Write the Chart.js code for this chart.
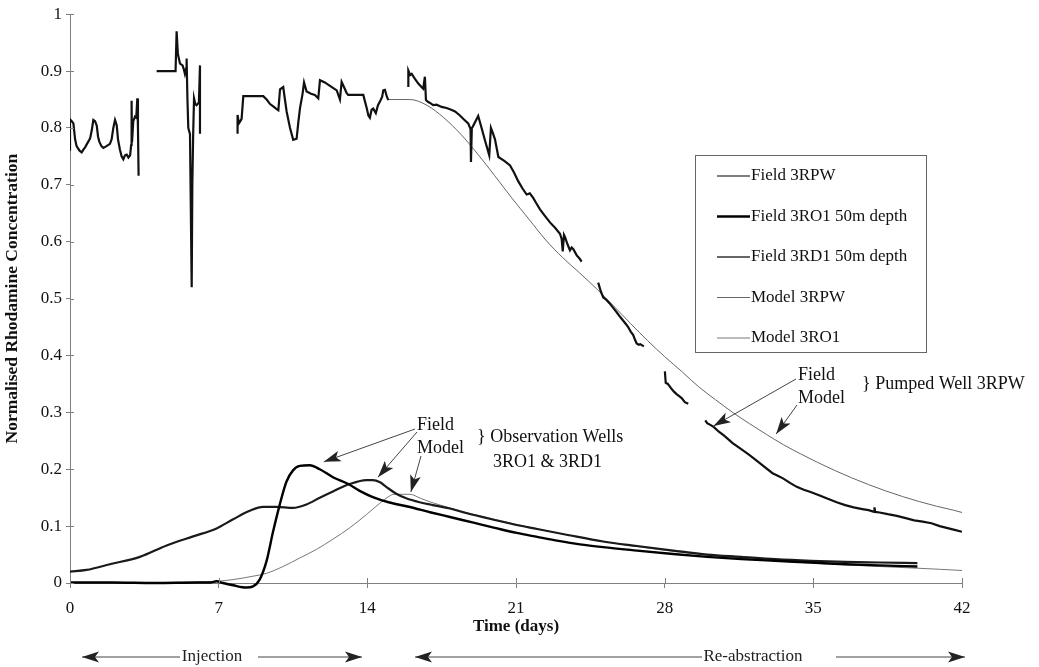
<!DOCTYPE html>
<html>
<head>
<meta charset="utf-8">
<script src="https://cdn.jsdelivr.net/npm/chart.js@4.4.1/dist/chart.umd.min.js"></script>
<style>
  html, body { margin: 0; padding: 0; background: #fff; }
  canvas { display: block; }
</style>
</head>
<body>
<canvas id="tracerChart" width="1039" height="667"></canvas>
<script>
const serif = "'Liberation Serif', 'Times New Roman', serif";
const axisGrey = '#808080';

// [day, normalised concentration]; null marks a gap in the logger record
const fieldPumpedWell = [
  [0.00,0.760],[0.00,0.815],[0.08,0.812],[0.16,0.808],[0.24,0.780],[0.31,0.768],[0.45,0.760],[0.55,0.757],
  [0.63,0.762],[0.71,0.766],[0.86,0.776],[0.95,0.782],[1.02,0.795],[1.10,0.814],[1.18,0.812],[1.26,0.804],
  [1.32,0.785],[1.38,0.776],[1.48,0.768],[1.57,0.765],[1.72,0.768],[1.88,0.772],[1.96,0.780],[2.04,0.800],
  [2.12,0.814],[2.20,0.805],[2.26,0.780],[2.35,0.762],[2.43,0.750],[2.51,0.745],[2.59,0.752],[2.67,0.753],
  [2.75,0.748],[2.83,0.752],[2.88,0.770],[2.90,0.848],[2.92,0.775],[2.98,0.812],[3.06,0.820],[3.12,0.818],
  [3.17,0.852],[3.20,0.800],[3.23,0.716],
  [3.60,null],
  [4.08,0.900],[4.97,0.900],[5.02,0.970],[5.08,0.930],[5.18,0.913],[5.30,0.910],[5.36,0.903],[5.41,0.895],
  [5.47,0.905],[5.49,0.922],[5.53,0.850],[5.57,0.800],[5.65,0.789],[5.73,0.520],[5.76,0.700],[5.80,0.790],
  [5.84,0.852],[5.90,0.842],[5.96,0.840],[6.07,0.845],[6.12,0.910],[6.12,0.790],
  [7.00,null],
  [7.89,0.790],[7.89,0.823],[7.95,0.808],[8.02,0.812],[8.08,0.816],[8.16,0.856],[9.10,0.856],[9.26,0.850],
  [9.42,0.842],[9.57,0.838],[9.70,0.834],[9.81,0.831],[9.89,0.868],[10.04,0.872],[10.12,0.850],[10.20,0.829],
  [10.36,0.800],[10.51,0.779],[10.67,0.781],[10.75,0.810],[10.83,0.835],[10.95,0.860],[11.02,0.880],[11.14,0.864],
  [11.35,0.860],[11.53,0.858],[11.69,0.852],[11.77,0.884],[12.00,0.880],[12.24,0.874],[12.40,0.870],[12.56,0.866],
  [12.71,0.850],[12.79,0.881],[12.90,0.872],[13.03,0.861],[13.10,0.858],[13.81,0.858],[13.90,0.845],[13.97,0.835],
  [14.05,0.822],[14.12,0.818],[14.20,0.832],[14.28,0.834],[14.40,0.826],[14.50,0.840],[14.60,0.847],[14.70,0.855],
  [14.75,0.866],[14.83,0.867],[14.92,0.855],[14.99,0.849],
  [15.50,null],
  [15.93,0.872],[15.93,0.901],[16.02,0.893],[16.09,0.895],[16.25,0.886],[16.40,0.878],[16.55,0.872],[16.63,0.869],
  [16.71,0.890],[16.76,0.849],[16.85,0.846],[16.95,0.844],[17.10,0.840],[17.26,0.841],[17.50,0.837],[17.73,0.835],
  [17.95,0.832],[18.13,0.829],[18.36,0.822],[18.55,0.815],[18.75,0.808],[18.86,0.798],[18.88,0.740],[18.92,0.800],
  [18.96,0.802],[19.22,0.821],[19.38,0.800],[19.54,0.778],[19.74,0.752],[19.82,0.800],[19.92,0.790],[20.01,0.780],
  [20.17,0.749],[20.45,0.742],[20.72,0.734],[20.90,0.722],[21.11,0.706],[21.30,0.694],[21.50,0.683],[21.65,0.685],
  [21.81,0.677],[21.95,0.668],[22.13,0.657],[22.35,0.646],[22.60,0.634],[22.85,0.624],[23.07,0.614],[23.15,0.605],
  [23.20,0.583],[23.26,0.612],[23.31,0.608],[23.42,0.596],[23.54,0.585],[23.62,0.590],[23.70,0.587],[23.86,0.576],
  [24.00,0.570],[24.09,0.565],
  [24.40,null],
  [24.87,0.528],[25.00,0.512],[25.11,0.502],[25.25,0.498],[25.40,0.492],[25.55,0.485],[25.74,0.476],[25.90,0.468],
  [26.05,0.461],[26.18,0.455],[26.28,0.450],[26.40,0.442],[26.52,0.436],[26.60,0.428],[26.68,0.421],[26.78,0.419],
  [26.85,0.420],[27.02,0.416],
  [27.50,null],
  [28.01,0.372],[28.05,0.352],[28.15,0.350],[28.33,0.341],[28.45,0.336],[28.56,0.332],[28.70,0.328],[28.80,0.325],
  [28.95,0.318],[29.11,0.315],
  [29.50,null],
  [29.91,0.286],[30.00,0.281],[30.15,0.278],[30.32,0.274],[30.55,0.266],[30.80,0.259],[31.20,0.246],[31.62,0.235],
  [31.95,0.226],[32.27,0.217],[32.70,0.204],[33.08,0.193],[33.30,0.189],[33.57,0.184],[33.90,0.176],[34.22,0.169],
  [34.55,0.164],[34.87,0.160],[35.30,0.154],[35.68,0.148],[36.10,0.142],[36.50,0.137],[36.90,0.133],[37.31,0.130],
  [37.60,0.128],[37.86,0.125],[37.88,0.133],[37.91,0.125],[38.12,0.124],[38.50,0.121],[38.93,0.118],[39.35,0.114],
  [39.75,0.110],[40.15,0.108],[40.56,0.105],[40.95,0.100],[41.37,0.096],[41.70,0.093],[42.00,0.090]
];

const fieldRO1 = [
  [0,0.001],[2,0.001],[4,0.000],[6,0.001],[6.6,0.001],[6.9,0.003],[7.2,0.000],[7.68,-0.004],[8.31,-0.008],
  [8.62,-0.006],[8.93,0.006],[9.25,0.038],[9.56,0.090],[9.87,0.137],[10.19,0.178],[10.50,0.198],[10.82,0.206],
  [11.29,0.207],[11.76,0.200],[12.38,0.186],[13.10,0.174],[13.64,0.162],[14.26,0.151],[15.00,0.142],[15.95,0.134],
  [17.00,0.124],[17.89,0.116],[19.00,0.106],[20.00,0.097],[21.03,0.088],[22.00,0.081],[23.00,0.074],[24.00,0.068],
  [25.10,0.063],[26.70,0.057],[28.40,0.051],[30.00,0.046],[31.60,0.042],[33.20,0.039],[34.90,0.036],[36.50,0.033],
  [38.10,0.031],[39.90,0.029]
];

const fieldRD1 = [
  [0,0.020],[0.78,0.023],[1.88,0.033],[3.29,0.046],[4.55,0.066],[5.80,0.082],[6.90,0.096],[7.68,0.112],[8.46,0.127],
  [9.09,0.134],[9.72,0.134],[10.50,0.132],[11.13,0.138],[11.76,0.150],[12.38,0.161],[13.17,0.174],[13.95,0.181],
  [14.25,0.181],[14.60,0.177],[14.89,0.169],[15.36,0.157],[15.83,0.149],[16.46,0.142],[17.08,0.137],[17.89,0.131],
  [18.65,0.123],[20.22,0.109],[21.03,0.102],[22.00,0.095],[23.50,0.084],[25.10,0.073],[26.70,0.065],[28.40,0.057],
  [30.00,0.050],[31.60,0.046],[33.20,0.042],[34.90,0.039],[36.50,0.037],[38.10,0.036],[39.90,0.035]
];

const modelPumpedWell = [
  [14.99,0.850],[16.00,0.850],[16.80,0.840],[17.60,0.818],[18.40,0.789],[19.20,0.754],[20.00,0.716],[20.80,0.677],
  [21.60,0.640],[22.40,0.603],[23.20,0.572],[24.00,0.545],[24.80,0.517],[25.60,0.487],[26.40,0.456],[27.20,0.426],
  [28.00,0.398],[28.80,0.372],[29.60,0.345],[30.40,0.322],[31.20,0.300],[32.00,0.280],[32.80,0.261],[33.60,0.243],
  [34.40,0.227],[35.20,0.212],[36.00,0.198],[36.80,0.185],[37.60,0.173],[38.40,0.162],[39.20,0.152],[40.00,0.143],
  [40.80,0.135],[41.60,0.128],[42.00,0.124]
];

const modelRO1 = [
  [0,0.000],[6.40,0.002],[7.68,0.006],[8.62,0.012],[9.25,0.017],[10.03,0.029],[10.82,0.044],[11.60,0.059],
  [12.38,0.077],[13.17,0.097],[13.95,0.120],[14.58,0.140],[15.05,0.153],[15.25,0.156],[16.00,0.156],[16.50,0.149],
  [17.00,0.142],[17.89,0.132],[18.65,0.124],[20.22,0.110],[21.03,0.103],[22.00,0.095],[23.50,0.084],[25.10,0.073],
  [26.70,0.064],[28.40,0.056],[30.00,0.049],[31.60,0.044],[33.20,0.039],[34.90,0.035],[36.50,0.032],[38.10,0.029],
  [39.90,0.026],[41.00,0.024],[42.00,0.022]
];

const xTicks = [0, 7, 14, 21, 28, 35, 42];

const toPoints = rows => rows.map(r => ({ x: r[0], y: r[1] }));

// legend box and the hand-drawn notes of the original figure
const legendBox = { left: 695, top: 155, width: 231, height: 197, firstRow: 176, rowGap: 40.5, lineFrom: 717, lineTo: 750 };

function drawArrow(ctx, x1, y1, x2, y2) {
  ctx.beginPath();
  ctx.moveTo(x1, y1);
  ctx.lineTo(x2, y2);
  ctx.stroke();
  const a = Math.atan2(y2 - y1, x2 - x1);
  ctx.save();
  ctx.translate(x2, y2);
  ctx.rotate(a);
  ctx.beginPath();
  ctx.moveTo(0, 0);
  ctx.lineTo(-17, -5.5);
  ctx.lineTo(-13, 0);
  ctx.lineTo(-17, 5.5);
  ctx.closePath();
  ctx.fill();
  ctx.restore();
}

const overlay = {
  id: 'overlay',
  afterDraw(chart) {
    const { ctx, chartArea } = chart;
    const xs = chart.scales.x, ys = chart.scales.y;
    ctx.save();

    // inner half of the tick marks
    ctx.strokeStyle = axisGrey;
    ctx.lineWidth = 1;
    ctx.beginPath();
    xs.ticks.forEach(t => {
      const px = Math.round(xs.getPixelForValue(t.value)) + 0.5;
      ctx.moveTo(px, chartArea.bottom);
      ctx.lineTo(px, chartArea.bottom - 5);
    });
    ys.ticks.forEach(t => {
      const py = Math.round(ys.getPixelForValue(t.value)) + 0.5;
      ctx.moveTo(chartArea.left, py);
      ctx.lineTo(chartArea.left + 4, py);
    });
    ctx.stroke();

    // legend
    ctx.fillStyle = '#fff';
    ctx.fillRect(legendBox.left, legendBox.top, legendBox.width, legendBox.height);
    ctx.strokeStyle = '#666';
    ctx.strokeRect(legendBox.left + 0.5, legendBox.top + 0.5, legendBox.width, legendBox.height);
    ctx.font = '17px ' + serif;
    ctx.textBaseline = 'middle';
    ctx.textAlign = 'left';
    chart.data.datasets.forEach((ds, i) => {
      const yy = legendBox.firstRow + i * legendBox.rowGap;
      ctx.strokeStyle = ds.legendColor || ds.borderColor;
      ctx.lineWidth = ds.legendWidth || ds.borderWidth;
      ctx.beginPath();
      ctx.moveTo(legendBox.lineFrom, yy);
      ctx.lineTo(legendBox.lineTo, yy);
      ctx.stroke();
      ctx.fillStyle = '#111';
      ctx.fillText(ds.label, legendBox.lineTo + 1, yy);
    });

    // notes
    ctx.font = '18px ' + serif;
    ctx.fillStyle = '#111';
    ctx.fillText('Field', 417, 425);
    ctx.fillText('Model', 417, 448);
    ctx.fillText('} Observation Wells', 477, 437);
    ctx.fillText('3RO1 & 3RD1', 493, 462);
    ctx.fillText('Field', 798, 375);
    ctx.fillText('Model', 798, 398);
    ctx.fillText('} Pumped Well 3RPW', 862, 384);

    ctx.strokeStyle = '#444';
    ctx.fillStyle = '#222';
    ctx.lineWidth = 1;
    const px = v => xs.getPixelForValue(v), py = v => ys.getPixelForValue(v);
    drawArrow(ctx, 415, 429, px(11.95), py(0.213));
    drawArrow(ctx, 417, 432, px(14.5), py(0.186));
    drawArrow(ctx, 421, 456, px(16.05), py(0.160));
    drawArrow(ctx, 796, 379, px(30.3), py(0.276));
    drawArrow(ctx, 797, 405, px(33.25), py(0.262));

    // phase arrows under the time axis
    const rowY = 657;
    ctx.font = '17px ' + serif;
    ctx.textAlign = 'center';
    ctx.fillText('Injection', 212, rowY);
    ctx.fillText('Re-abstraction', 753, rowY);
    drawArrow(ctx, 180, rowY, 82, rowY);
    drawArrow(ctx, 258, rowY, 362, rowY);
    drawArrow(ctx, 702, rowY, 415, rowY);
    drawArrow(ctx, 836, rowY, 965, rowY);

    ctx.restore();
  }
};

const ctx = document.getElementById('tracerChart').getContext('2d');
const tracerChart = new Chart(ctx, {
  type: 'scatter',
  data: {
    datasets: [
      {
        label: 'Field 3RPW',
        data: toPoints(fieldPumpedWell),
        showLine: true, spanGaps: false, tension: 0,
        borderColor: '#111', borderWidth: 2.2, legendColor: '#555', legendWidth: 1.5,
        pointRadius: 0
      },
      {
        label: 'Field 3RO1 50m depth',
        data: toPoints(fieldRO1),
        showLine: true, cubicInterpolationMode: 'monotone', clip: false,
        borderColor: '#000', borderWidth: 2.4,
        pointRadius: 0
      },
      {
        label: 'Field 3RD1 50m depth',
        data: toPoints(fieldRD1),
        showLine: true, cubicInterpolationMode: 'monotone',
        borderColor: '#1a1a1a', borderWidth: 2.2, legendColor: '#333', legendWidth: 1.6,
        pointRadius: 0
      },
      {
        label: 'Model 3RPW',
        data: toPoints(modelPumpedWell),
        showLine: true, cubicInterpolationMode: 'monotone',
        borderColor: '#666', borderWidth: 1,
        pointRadius: 0
      },
      {
        label: 'Model 3RO1',
        data: toPoints(modelRO1),
        showLine: true, cubicInterpolationMode: 'monotone',
        borderColor: '#777', borderWidth: 1,
        pointRadius: 0
      }
    ]
  },
  options: {
    responsive: false,
    animation: false,
    layout: { padding: { left: 0, right: 77, top: 11, bottom: 0 } },
    scales: {
      x: {
        type: 'linear',
        min: 0,
        max: 42,
        afterBuildTicks: scale => { scale.ticks = xTicks.map(v => ({ value: v })); },
        afterFit: scale => { scale.height = 84; },
        ticks: { font: { family: serif, size: 17 }, color: '#111', padding: 10, maxRotation: 0 },
        grid: { drawOnChartArea: false, color: axisGrey, tickLength: 5 },
        border: { color: axisGrey },
        title: {
          display: true,
          text: 'Time (days)',
          font: { family: serif, size: 17, weight: 'bold' },
          color: '#111',
          padding: { top: 0, bottom: 30 }
        }
      },
      y: {
        min: 0,
        max: 1,
        afterFit: scale => { scale.width = 70; },
        ticks: {
          stepSize: 0.1,
          font: { family: serif, size: 17 },
          color: '#111',
          padding: 4,
          callback: v => String(Number(v.toFixed(1)))
        },
        grid: { drawOnChartArea: false, color: axisGrey, tickLength: 4 },
        border: { color: axisGrey },
        title: {
          display: true,
          text: 'Normalised Rhodamine Concentration',
          font: { family: serif, size: 17.5, weight: 'bold' },
          color: '#111',
          padding: { top: 2, bottom: 0 }
        }
      }
    },
    plugins: {
      legend: { display: false },
      tooltip: { enabled: false }
    }
  },
  plugins: [overlay]
});
</script>
</body>
</html>
